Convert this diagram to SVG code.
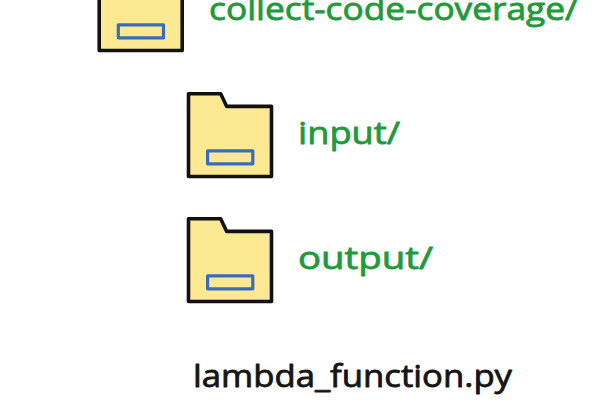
<svg xmlns="http://www.w3.org/2000/svg" width="600" height="400" viewBox="0 0 600 400">
  <style>
    .body { fill: #fde992; stroke: #111111; stroke-width: 3.6; stroke-linejoin: round; }
    .slot { fill: #fde992; stroke: #3a6cbc; stroke-width: 3.2; stroke-linejoin: round; }
    text { font-family: "Open Sans", "Liberation Sans", sans-serif; font-size: 31px; stroke-width: 0.8; stroke-linejoin: round; }
    .dir { fill: #1f9a3c; stroke: #1f9a3c; }
    .file { fill: #151515; stroke: #151515; }
  </style>
  <defs>
    <g id="folder">
      <path class="body" d="M188.5 93.7H220.7L226.7 106.4H271.5V176.5H188.5Z"/>
      <rect class="slot" x="207.6" y="150.8" width="45.2" height="13"/>
    </g>
  </defs>
  <rect width="600" height="400" fill="#ffffff"/>
  <g id="folder-collect-code-coverage">
    <use href="#folder" x="-89.3" y="-126"/>
    <text class="dir" x="209" y="20" textLength="369" lengthAdjust="spacingAndGlyphs">collect-code-coverage/</text>
  </g>
  <g id="folder-input">
    <use href="#folder"/>
    <text class="dir" x="298" y="144" textLength="102" lengthAdjust="spacingAndGlyphs">input/</text>
  </g>
  <g id="folder-output">
    <use href="#folder" y="125"/>
    <text class="dir" x="298" y="269" textLength="135" lengthAdjust="spacingAndGlyphs">output/</text>
  </g>
  <g id="file-lambda-function">
    <text class="file" x="193" y="387" textLength="319" lengthAdjust="spacingAndGlyphs">lambda_function.py</text>
  </g>
  <g id="connectors"/>
</svg>
